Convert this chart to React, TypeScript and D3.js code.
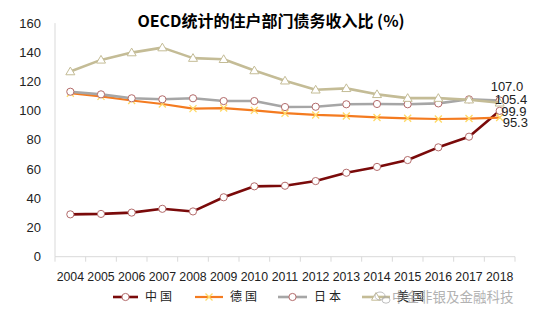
import React from "react";
import * as d3 from "d3";

const years = ["2004","2005","2006","2007","2008","2009","2010","2011","2012","2013","2014","2015","2016","2017","2018"];
const china = [29.0, 29.3, 30.2, 32.8, 31.0, 40.7, 48.2, 48.6, 51.8, 57.5, 61.5, 66.2, 74.9, 82.2, 99.9];
const germany = [112.0, 109.8, 107.0, 104.6, 101.4, 101.8, 100.2, 98.3, 97.1, 96.4, 95.4, 94.8, 94.3, 94.6, 95.3];
const japan = [113.0, 111.2, 108.5, 107.8, 108.5, 106.6, 106.6, 102.5, 102.7, 104.4, 104.6, 104.4, 105.0, 107.8, 107.0];
const usa = [126.8, 134.8, 139.8, 143.2, 136.0, 135.2, 127.5, 120.5, 114.3, 115.3, 111.2, 108.6, 108.6, 107.5, 105.4];
const yTicks = [0, 20, 40, 60, 80, 100, 120, 140, 160];
const endLabels = ["107.0", "105.4", "99.9", "95.3"];
const legendNames = ["中国", "德国", "日本", "美国"];
const title = "OECD统计的住户部门债务收入比 (%)";
const watermark = "中金非银及金融科技";

const W = 550, H = 321;
const x = d3.scaleBand<string>().domain(years).range([55, 515]).padding(0);
const y = d3.scaleLinear().domain([0, 160]).range([256.7, 23.1]);
const cx = (yr: string) => (x(yr) as number) + x.bandwidth() / 2;

type Marker = "circle" | "x" | "tri";
const series = [
  { name: legendNames[0], data: china, color: "#7a0a0a", width: 2.6, marker: "circle" as Marker, mStroke: "#b36b6b", mFill: "#fff" },
  { name: legendNames[1], data: germany, color: "#f47b20", width: 2.2, marker: "x" as Marker, mStroke: "#ffd966", mFill: "none" },
  { name: legendNames[2], data: japan, color: "#a6a6a6", width: 2.6, marker: "circle" as Marker, mStroke: "#b36b6b", mFill: "#fff" },
  { name: legendNames[3], data: usa, color: "#c4bc96", width: 2.6, marker: "tri" as Marker, mStroke: "#c4bc96", mFill: "#fff" },
];

function MarkerShape({ m, px, py, stroke, fill }: { m: Marker; px: number; py: number; stroke: string; fill: string }) {
  if (m === "circle") return <circle cx={px} cy={py} r={3.6} fill={fill} stroke={stroke} strokeWidth={1} />;
  if (m === "x")
    return (
      <path d={`M${px - 3.5},${py - 3.5}L${px + 3.5},${py + 3.5}M${px - 3.5},${py + 3.5}L${px + 3.5},${py - 3.5}`} stroke={stroke} strokeWidth={1.3} />
    );
  return <path d={`M${px},${py - 4.5}L${px + 4.5},${py + 3.2}L${px - 4.5},${py + 3.2}Z`} fill={fill} stroke={stroke} strokeWidth={1} />;
}

export default function App() {
  const line = d3.line<number>().x((_, i) => cx(years[i])).y((v) => y(v));
  const lastX = cx(years[years.length - 1]);
  const labelPos = [
    { dx: -9, yy: 86 },
    { dx: -5, yy: 99 },
    { dx: 1.5, yy: 111.7 },
    { dx: 3, yy: 122 },
  ];
  const legendX = [113, 195, 278, 362];
  const legendW = [25, 28, 29, 28];
  const ly = 297;
  return (
    <svg width={W} height={H} style={{ position: "absolute", left: 0, top: 0, background: "#fff" }} fontFamily="'Liberation Sans', Arial, sans-serif">
      <text x={271} y={27} textAnchor="middle" fontSize={16} fontWeight="bold" fill="#000" fontFamily="'Noto Sans CJK SC', 'Liberation Sans', sans-serif">{title}</text>
      {/* y axis */}
      <line x1={55} x2={55} y1={y(160)} y2={y(0)} stroke="#d9d9d9" strokeWidth={1} />
      {yTicks.map((t) => (
        <text key={t} x={41} y={y(t)} dy="0.35em" textAnchor="end" fontSize={13} fill="#222">{t}</text>
      ))}
      {/* x axis */}
      <line x1={55} x2={515} y1={y(0)} y2={y(0)} stroke="#d9d9d9" strokeWidth={1} />
      {years.map((yr) => (
        <line key={"t" + yr} x1={x(yr) as number} x2={x(yr) as number} y1={y(0)} y2={y(0) + 5} stroke="#d9d9d9" />
      ))}
      <line x1={515} x2={515} y1={y(0)} y2={y(0) + 5} stroke="#d9d9d9" />
      {years.map((yr) => (
        <text key={yr} x={cx(yr)} y={281} textAnchor="middle" fontSize={12.3} fill="#222">{yr}</text>
      ))}
      {series.map((s) => (
        <g key={s.name}>
          <path d={line(s.data) || ""} fill="none" stroke={s.color} strokeWidth={s.width} strokeLinejoin="round" />
          {s.data.map((v, i) => (
            <MarkerShape key={i} m={s.marker} px={cx(years[i])} py={y(v)} stroke={s.mStroke} fill={s.mFill} />
          ))}
        </g>
      ))}
      {endLabels.map((l, i) => (
        <text key={l} x={lastX + labelPos[i].dx} y={labelPos[i].yy} dy="0.35em" fontSize={13} fill="#222">{l}</text>
      ))}
      {/* legend */}
      {series.map((s, i) => (
        <g key={"lg" + s.name}>
          <line x1={legendX[i]} x2={legendX[i] + legendW[i]} y1={ly} y2={ly} stroke={s.color} strokeWidth={s.width} />
          <MarkerShape m={s.marker} px={legendX[i] + legendW[i] / 2} py={ly} stroke={s.mStroke} fill={s.mFill} />
          <text x={legendX[i] + legendW[i] + 7} y={ly} dy="0.35em" fontSize={12} letterSpacing={3} fill="#222" fontFamily="'Noto Sans CJK SC', sans-serif">{s.name}</text>
        </g>
      ))}
      {/* watermark */}
      <g opacity={0.75}>
        <ellipse cx={380} cy={296} rx={5} ry={4} fill="none" stroke="#aaa" strokeWidth={1} />
        <ellipse cx={386} cy={300} rx={4} ry={3.2} fill="none" stroke="#aaa" strokeWidth={1} />
        <text x={392} y={297} dy="0.35em" fontSize={13.5} fill="#999" fontFamily="'Noto Sans CJK SC', sans-serif">{watermark}</text>
      </g>
    </svg>
  );
}
